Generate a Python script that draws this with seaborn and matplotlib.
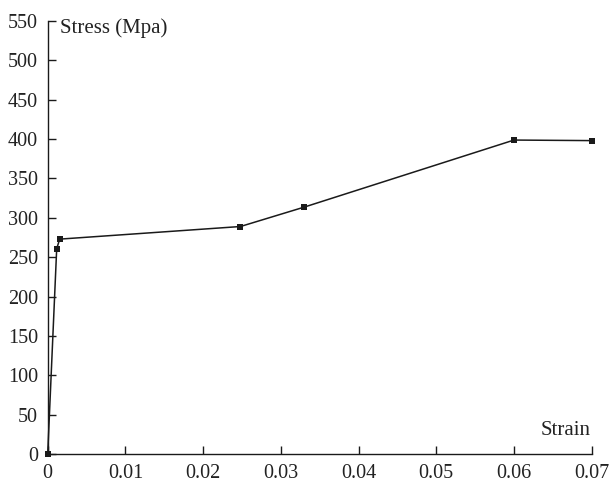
import matplotlib
matplotlib.use("Agg")
import matplotlib.pyplot as plt
import seaborn as sns
import pandas as pd

strain = [0.0, 0.00116, 0.00155, 0.0248, 0.0330, 0.0600, 0.0700]
stress = [0, 261, 273, 289, 313.6, 398.7, 398.0]
x_ticks = [0, 0.01, 0.02, 0.03, 0.04, 0.05, 0.06, 0.07]
x_tick_labels = ["0", "0.01", "0.02", "0.03", "0.04", "0.05", "0.06", "0.07"]
y_ticks = list(range(0, 551, 50))

sns.set_theme(style="ticks")
plt.rcParams['font.family'] = ['Liberation Serif', 'DejaVu Serif']

df = pd.DataFrame({"Strain": strain, "Stress": stress})

fig = plt.figure(figsize=(6.09, 4.84), dpi=100)
ax = fig.add_axes([0.0783, 0.0614, 0.9716 - 0.0783, 0.957 - 0.0614])

sns.lineplot(data=df, x="Strain", y="Stress", ax=ax, color="#1a1a1a", linewidth=1.1,
             marker="s", markersize=4, markeredgewidth=0, sort=False, clip_on=False)

ax.set_xlim(0, 0.07)
ax.set_ylim(0, 550)
ax.set_xticks(x_ticks)
ax.set_xticklabels(x_tick_labels)
ax.set_yticks(y_ticks)
ax.tick_params(direction="in", length=6, width=1, colors="#1a1a1a", labelsize=14.5)
ax.tick_params(axis="y", pad=7)
ax.tick_params(axis="x", pad=7)
for lab in ax.get_xticklabels() + ax.get_yticklabels():
    lab.set_color("#222222")
sns.despine(ax=ax)
for s in ["left", "bottom"]:
    ax.spines[s].set_linewidth(1)
    ax.spines[s].set_color("#1a1a1a")
ax.set_xlabel("")
ax.set_ylabel("")
ax.text(0.0016, 553, "Stress (Mpa)", ha="left", va="top", fontsize=15, color="#222222")
ax.text(0.0699, 18, "Strain", ha="right", va="bottom", fontsize=15, color="#222222")

fig.savefig("out.png", dpi=100)
